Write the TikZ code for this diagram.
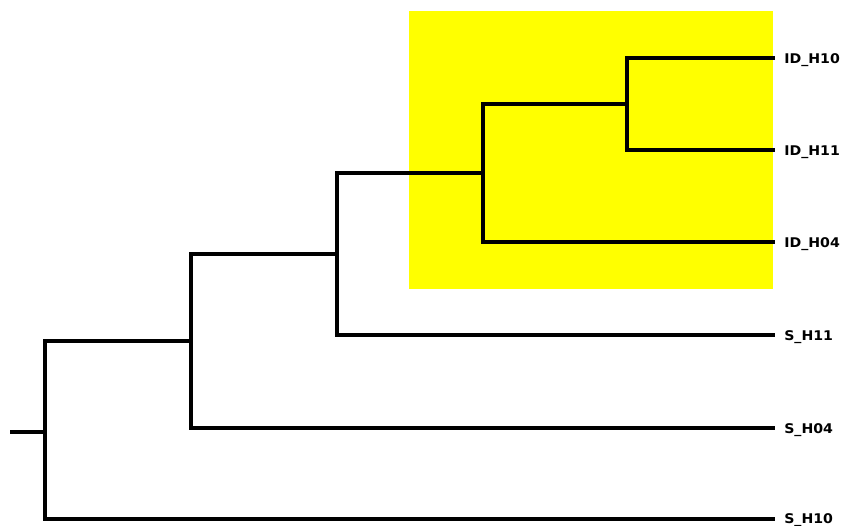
\documentclass[tikz,border=0pt]{standalone}
\usepackage{fontspec}
\setmainfont{DejaVu Sans}
\definecolor{hl}{RGB}{255,255,0}
\begin{document}
\begin{tikzpicture}[x=0.75pt,y=-0.75pt,
  branch/.style={line width=2.4pt, line cap=rect},
  leaflabel/.style={anchor=base west, inner sep=0pt, font=\bfseries\fontsize{10}{12}\selectfont, xscale=1.06}]
\useasboundingbox (0,0) rectangle (842,525);
\fill[hl] (409,11) rectangle (773,289);
% leaves
\coordinate (l1) at (773,58);
\coordinate (l2) at (773,150);
\coordinate (l3) at (773,242);
\coordinate (l4) at (773,335);
\coordinate (l5) at (773,428);
\coordinate (l6) at (773,519);
\node[leaflabel] (t1) at (784,63) {ID\_H10};
\node[leaflabel] (t2) at (784,155) {ID\_H11};
\node[leaflabel] (t3) at (784,247) {ID\_H04};
\node[leaflabel] (t4) at (784,340) {S\_H11};
\node[leaflabel] (t5) at (784,433) {S\_H04};
\node[leaflabel] (t6) at (784,523) {S\_H10};
% internal nodes
\coordinate (n1) at (627,104);
\coordinate (n2) at (483,173);
\coordinate (n3) at (337,254);
\coordinate (n4) at (191,341);
\coordinate (r) at (45,432);
\coordinate (stub) at (12,432);
\draw[branch] (l1) -| (n1) |- (l2);
\draw[branch] (n1) -- (n1 -| n2);
\draw[branch] (n1 -| n2) -- (n2) |- (l3);
\draw[branch] (n2) -- (n2 -| n3);
\draw[branch] (n2 -| n3) -- (n3) |- (l4);
\draw[branch] (n3) -- (n3 -| n4);
\draw[branch] (n3 -| n4) -- (n4) |- (l5);
\draw[branch] (n4) -- (n4 -| r);
\draw[branch] (n4 -| r) -- (r) |- (l6);
\draw[branch] (stub) -- (r);
\end{tikzpicture}
\end{document}
